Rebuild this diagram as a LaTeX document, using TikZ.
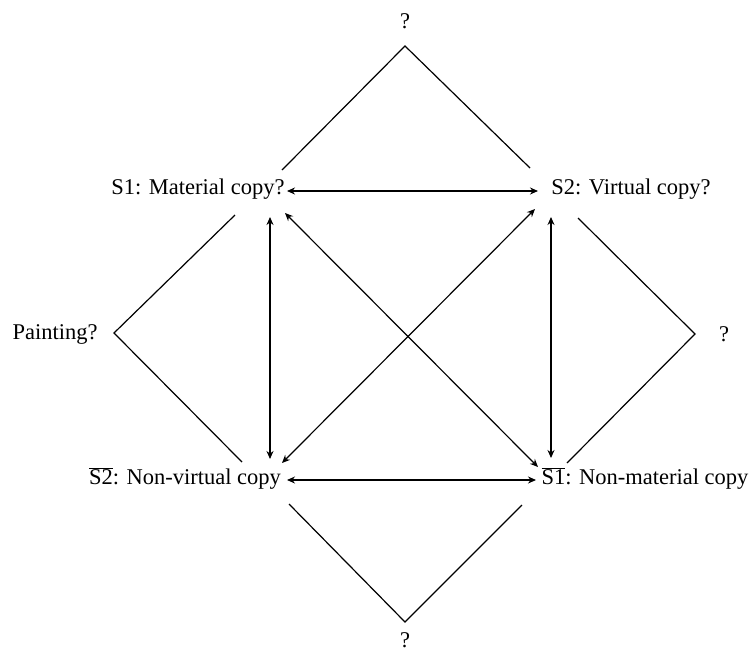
\documentclass[tikz,border=0pt]{standalone}
\usepackage{fontspec}
\setmainfont{Liberation Serif}
\usetikzlibrary{arrows.meta}
\tikzset{
  lbl/.style={inner sep=0pt, font=\fontsize{22.5}{27}\selectfont},
  side/.style={line width=1.2pt},
  link/.style={line width=1.2pt, {Stealth[length=8pt,width=7pt]}-{Stealth[length=8pt,width=7pt]}}
}
\begin{document}
\begin{tikzpicture}[x=1pt, y=-1pt]
    \useasboundingbox (0,0) rectangle (752,654);
    % the four statements
    \node[lbl] (s1) at (198,189) {S1: Material copy?};
    \node[lbl] (s2) at (631,189) {S2: Virtual copy?};
    \node[lbl] (ns2) at (185,478) {$\overline{\mbox{S2}}$: Non-virtual copy};
    \node[lbl] (ns1) at (645,478) {$\overline{\mbox{S1}}$: Non-material copy};
    % the open corners
    \node[lbl] (qtop) at (405,21) {?};
    \node[lbl] (paint) at (55,334) {Painting?};
    \node[lbl] (qright) at (724,334) {?};
    \node[lbl] (qbot) at (405,640) {?};
    % tips of the side wedges
    \coordinate (ttop) at (405,46);
    \coordinate (tleft) at (114,333);
    \coordinate (tright) at (695,334);
    \coordinate (tbot) at (405,622);
    % ends of the links
    \coordinate (s1e) at (287,191);
    \coordinate (s1s) at (270,217);
    \coordinate (s1d) at (285,213);
    \coordinate (s2w) at (538,191);
    \coordinate (s2s) at (551,217);
    \coordinate (s2d) at (535,209);
    \coordinate (ns2e) at (287,480);
    \coordinate (ns2n) at (270,459);
    \coordinate (ns2d) at (282,463);
    \coordinate (ns1w) at (536,480);
    \coordinate (ns1n) at (551,458);
    \coordinate (ns1d) at (538,467);
    % wedges
    \draw[side] (282,170) -- (ttop) -- (530,168);
    \draw[side] (235,215) -- (tleft) -- (242,462);
    \draw[side] (578,218) -- (tright) -- (567,463);
    \draw[side] (289,504) -- (tbot) -- (522,505);
    % links
    \draw[link] (s1e) -- (s2w);
    \draw[link] (ns2e) -- (ns1w);
    \draw[link] (s1s) -- (ns2n);
    \draw[link] (s2s) -- (ns1n);
    \draw[link] (s1d) -- (ns1d);
    \draw[link] (s2d) -- (ns2d);
\end{tikzpicture}
\end{document}
